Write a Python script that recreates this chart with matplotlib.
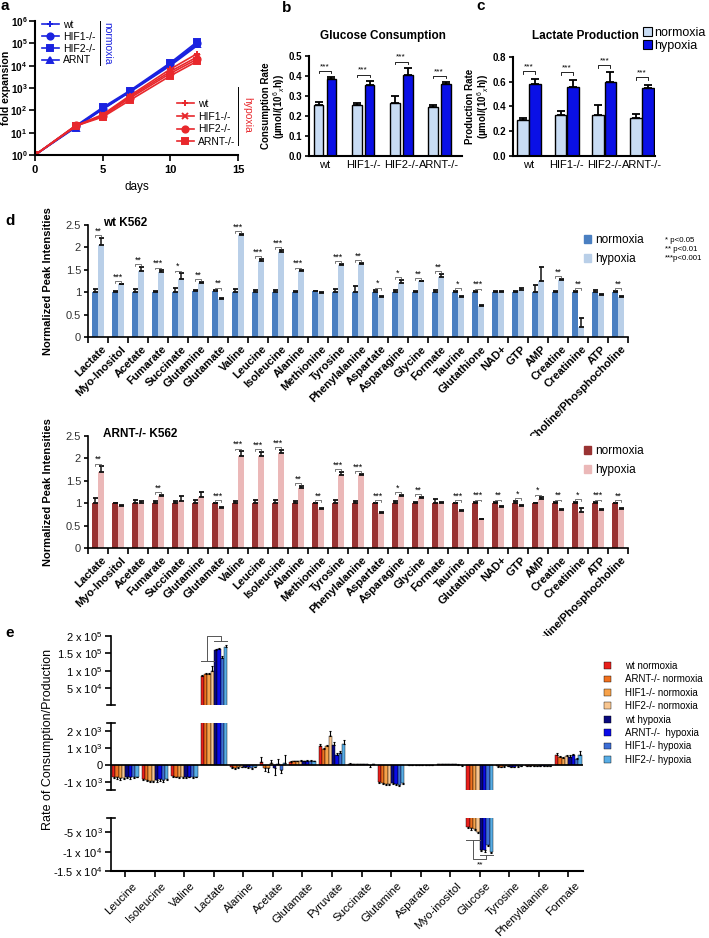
import numpy as np
import matplotlib
matplotlib.use("Agg")
import matplotlib.pyplot as plt
import matplotlib.transforms as mtransforms
from matplotlib.lines import Line2D
from matplotlib.patches import Patch

plt.rcParams['font.family'] = ['Liberation Sans', 'DejaVu Sans']
plt.rcParams['mathtext.fontset'] = 'custom'
plt.rcParams['mathtext.rm'] = 'Liberation Sans'
plt.rcParams['mathtext.it'] = 'Liberation Sans:italic'
plt.rcParams['mathtext.bf'] = 'Liberation Sans:bold'
plt.rcParams['axes.linewidth'] = 1.2

# ─────────────────────────────────────────────
# Data
# ─────────────────────────────────────────────

# a: growth curves
days = [0, 3, 5, 7, 10, 12]
norm_labels = ['wt', 'HIF1-/-', 'HIF2-/-', 'ARNT']
hyp_labels = ['wt', 'HIF1-/-', 'HIF2-/-', 'ARNT-/-']
growth_norm = [[1, 18, 110, 650, 10000, 80000],
               [1, 19, 120, 700, 12000, 100000],
               [1, 20, 135, 760, 13500, 120000],
               [1, 17, 115, 680, 11000, 90000]]
growth_hyp = [[1, 20, 65, 450, 7000, 35000],
              [1, 19, 60, 400, 5500, 25000],
              [1, 21, 55, 350, 4500, 20000],
              [1, 20, 50, 280, 3500, 16000]]
norm_markers = ['+', 'o', 's', '^']
hyp_markers = ['+', 'x', 'o', 's']

# b / c: glucose consumption and lactate production
strains = ['wt', 'HIF1-/-', 'HIF2-/-', 'ARNT-/-']
glc_norm = [0.255, 0.255, 0.265, 0.245]
glc_norm_err = [0.015, 0.012, 0.035, 0.010]
glc_hyp = [0.385, 0.357, 0.407, 0.360]
glc_hyp_err = [0.010, 0.020, 0.035, 0.010]
lac_norm = [0.290, 0.335, 0.335, 0.310]
lac_norm_err = [0.015, 0.025, 0.080, 0.030]
lac_hyp = [0.580, 0.560, 0.600, 0.550]
lac_hyp_err = [0.045, 0.055, 0.075, 0.025]

# d: normalized NMR peak intensities
metabolites = ['Lactate', 'Myo-Inositol', 'Acetate', 'Fumarate', 'Succinate',
               'Glutamine', 'Glutamate', 'Valine', 'Leucine', 'Isoleucine',
               'Alanine', 'Methionine', 'Tyrosine', 'Phenylalanine', 'Aspartate',
               'Asparagine', 'Glycine', 'Formate', 'Taurine', 'Glutathione',
               'NAD+', 'GTP', 'AMP', 'Creatine', 'Creatinine', 'ATP',
               'Choline/Phosphocholine']
wt_norm = [1.0, 1.0, 1.0, 1.0, 1.0, 1.02, 1.02, 1.0, 1.0, 1.0, 1.01, 1.02, 1.0,
           1.0, 1.0, 1.0, 1.0, 1.0, 1.0, 1.0, 1.0, 1.0, 1.0, 1.0, 1.0, 1.0, 1.0]
wt_norm_err = [0.08, 0.03, 0.07, 0.03, 0.10, 0.02, 0.02, 0.08, 0.05, 0.05, 0.01,
               0.01, 0.08, 0.14, 0.04, 0.04, 0.03, 0.04, 0.03, 0.02, 0.03, 0.03,
               0.17, 0.03, 0.03, 0.04, 0.03]
wt_hyp = [2.05, 1.18, 1.47, 1.45, 1.30, 1.20, 0.85, 2.27, 1.70, 1.90, 1.48, 0.98,
          1.60, 1.64, 0.89, 1.20, 1.24, 1.33, 0.90, 0.70, 1.00, 1.05, 1.24, 1.27,
          0.23, 0.94, 0.90]
wt_hyp_err = [0.17, 0.01, 0.10, 0.04, 0.12, 0.03, 0.02, 0.03, 0.05, 0.05, 0.01,
              0.02, 0.04, 0.02, 0.02, 0.08, 0.02, 0.08, 0.01, 0.01, 0.03, 0.05,
              0.32, 0.03, 0.19, 0.03, 0.01]
wt_sig = ['**', '***', '**', '***', '*', '**', '**', '***', '***', '***', '***', '',
          '***', '**', '*', '*', '**', '**', '*', '***', '', '', '', '**', '**',
          '', '**']
arnt_norm = [1.0] * 27
arnt_norm_err = [0.11, 0.01, 0.08, 0.04, 0.06, 0.07, 0.01, 0.06, 0.07, 0.07, 0.06,
                 0.01, 0.08, 0.05, 0.01, 0.04, 0.02, 0.10, 0.01, 0.02, 0.02, 0.05,
                 0.01, 0.02, 0.03, 0.02, 0.01]
arnt_hyp = [1.70, 0.93, 1.00, 1.15, 1.05, 1.13, 0.90, 2.05, 2.05, 2.12, 1.35, 0.88,
            1.63, 1.64, 0.78, 1.16, 1.12, 1.00, 0.83, 0.64, 0.92, 0.94, 1.10, 0.85,
            0.80, 0.85, 0.88]
arnt_hyp_err = [0.12, 0.03, 0.04, 0.03, 0.12, 0.12, 0.01, 0.11, 0.09, 0.07, 0.03,
                0.02, 0.07, 0.02, 0.02, 0.03, 0.02, 0.03, 0.01, 0.01, 0.02, 0.02,
                0.03, 0.02, 0.09, 0.01, 0.02]
arnt_sig = ['**', '', '', '**', '', '', '***', '***', '***', '***', '**', '**',
            '***', '***', '***', '*', '**', '', '***', '***', '**', '*', '*', '**',
            '*', '***', '**']
p_labels = ['* p<0.05', '** p<0.01', '***p<0.001']

# e: consumption / production rates
e_metabolites = ['Leucine', 'Isoleucine', 'Valine', 'Lactate', 'Alanine', 'Acetate',
                 'Glutamate', 'Pyruvate', 'Succinate', 'Glutamine', 'Asparate',
                 'Myo-inositol', 'Glucose', 'Tyrosine', 'Phenylalanine', 'Formate']
e_series = ['wt normoxia', 'ARNT-/- normoxia', 'HIF1-/- normoxia', 'HIF2-/- normoxia',
            'wt hypoxia', 'ARNT-/-  hypoxia', 'HIF1-/- hypoxia', 'HIF2-/- hypoxia']
e_wt_n = [-700, -850, -650, 86000, -150, 200, 200, 1150, 80, -1050, 10, 40, -3700, -80, -50, 570]
e_arnt_n = [-750, -900, -700, 92000, -200, -200, 220, 950, 60, -1100, 10, 40, -4000, -100, -50, 450]
e_hif1_n = [-800, -950, -700, 90000, -150, -200, 220, 1100, 50, -1120, 5, 50, -4200, -80, -40, 400]
e_hif2_n = [-800, -950, -720, 100000, -100, 100, 250, 1750, 60, -1150, 10, 40, -4800, -60, -40, 530]
e_wt_h = [-750, -900, -750, 159000, -100, -200, 220, 1200, 50, -1100, 5, 30, -9500, -100, -50, 490]
e_arnt_h = [-750, -850, -700, 163000, -150, 50, 250, 600, 30, -1150, 10, 40, -9700, -100, -40, 570]
e_hif1_h = [-750, -900, -750, 137000, -200, -300, 250, 700, -20, -1200, 10, 20, -8200, -80, -40, 330]
e_hif2_h = [-700, -850, -700, 169000, -100, 100, 220, 1250, 40, -1100, 5, -30, -10000, -60, -50, 590]
e_wt_n_err = [80, 80, 60, 3000, 40, 300, 20, 100, 20, 60, 5, 10, 300, 20, 10, 150]
e_arnt_n_err = [70, 90, 50, 3000, 60, 150, 20, 80, 20, 60, 5, 10, 300, 20, 10, 60]
e_hif1_n_err = [80, 100, 60, 3000, 40, 250, 20, 80, 15, 60, 5, 10, 300, 20, 10, 60]
e_hif2_n_err = [60, 80, 50, 14000, 30, 200, 20, 250, 15, 60, 5, 10, 300, 20, 10, 80]
e_wt_h_err = [60, 100, 60, 5000, 30, 400, 20, 150, 15, 60, 5, 10, 300, 20, 10, 80]
e_arnt_h_err = [70, 120, 50, 4000, 40, 300, 20, 80, 10, 60, 5, 10, 300, 20, 10, 80]
e_hif1_h_err = [60, 150, 60, 5000, 50, 200, 20, 150, 100, 60, 5, 10, 300, 20, 10, 60]
e_hif2_h_err = [50, 80, 50, 4000, 30, 500, 20, 250, 15, 60, 5, 50, 300, 20, 10, 250]
e_values = [e_wt_n, e_arnt_n, e_hif1_n, e_hif2_n, e_wt_h, e_arnt_h, e_hif1_h, e_hif2_h]
e_errors = [e_wt_n_err, e_arnt_n_err, e_hif1_n_err, e_hif2_n_err,
            e_wt_h_err, e_arnt_h_err, e_hif1_h_err, e_hif2_h_err]

# ─────────────────────────────────────────────
# Colours
# ─────────────────────────────────────────────

BLUE_A = '#1a22e0'
RED_A = '#e8282c'
C_LIGHT = '#c8dcf4'
C_DARK = '#0a10e6'
D_WT = ('#4a7fc1', '#b9cfe8')
D_ARNT = ('#993333', '#ebb8b8')
E_COLORS = ['#e8201c', '#f0701e', '#f7a24a', '#f8c690',
            '#08087e', '#0a0ae8', '#3d6ed6', '#58ade6']

# ─────────────────────────────────────────────
# Layout helpers (pixel coordinates of the 709x938 figure)
# ─────────────────────────────────────────────

W, H = 709, 938
fig = plt.figure(figsize=(W / 100, H / 100), dpi=100)


def box(left, top, right, bottom):
    return [left / W, 1 - bottom / H, (right - left) / W, (bottom - top) / H]


def ftext(x, y, s, **kw):
    return fig.text(x / W, 1 - y / H, s, **kw)


def fline(xs, ys, **kw):
    fig.add_artist(Line2D([v / W for v in xs], [1 - v / H for v in ys], **kw))


def fig_anchor(x, y):
    return (x / W, 1 - y / H)


def shift_labels(ax, dx_px):
    off = mtransforms.ScaledTranslation(dx_px / 100, 0, fig.dpi_scale_trans)
    for lab in ax.get_xticklabels():
        lab.set_transform(lab.get_transform() + off)


for lab, x, y in [('a', 5, 6), ('b', 287, 8), ('c', 481, 6), ('d', 10, 221), ('e', 10, 633)]:
    ftext(x, y, lab, fontsize=11, fontweight='bold', ha='center', va='center')

# ─────────────────────────────────────────────
# a: fold expansion
# ─────────────────────────────────────────────

ax_a = fig.add_axes(box(35, 21, 238, 155))
h_norm, h_hyp = [], []
for vals, m in zip(growth_norm, norm_markers):
    ln, = ax_a.plot(days, vals, color=BLUE_A, marker=m, ms=4.5, mew=1.4, lw=1.2)
    h_norm.append(ln)
for vals, m in zip(growth_hyp, hyp_markers):
    ln, = ax_a.plot(days, vals, color=RED_A, marker=m, ms=4.5, mew=1.4, lw=1.2)
    h_hyp.append(ln)
ax_a.set_yscale('log')
ax_a.set_ylim(1, 1e6)
ax_a.set_xlim(0, 15)
ax_a.yaxis.set_minor_locator(matplotlib.ticker.NullLocator())
ax_a.set_yticks([10 ** k for k in range(7)],
                labels=[r'$\mathbf{10^{%d}}$' % k for k in range(7)], fontsize=7.2)
ax_a.set_xticks([0, 5, 10, 15], labels=['0', '5', '10', '15'], fontsize=8, fontweight='bold')
ax_a.tick_params(length=4, width=1.2)
ax_a.tick_params(axis='y', pad=1.5)
for s in ['top', 'right']:
    ax_a.spines[s].set_visible(False)
ax_a.spines[['left', 'bottom']].set_linewidth(1.5)
ax_a.set_xlabel('days', fontsize=8.5, labelpad=4)
ftext(6, 88, 'fold expansion', fontsize=7.6, fontweight='bold', rotation=90, ha='center', va='center')

leg_n = ax_a.legend(h_norm, norm_labels, loc='upper left', bbox_to_anchor=fig_anchor(42, 20),
                    bbox_transform=fig.transFigure, frameon=False, fontsize=7.5,
                    handlelength=1.6, handletextpad=0.4, labelspacing=0.17,
                    borderpad=0, borderaxespad=0)
ax_a.add_artist(leg_n)
ax_a.legend(h_hyp, hyp_labels, loc='upper left', bbox_to_anchor=fig_anchor(177, 99),
            bbox_transform=fig.transFigure, frameon=False, fontsize=7.5,
            handlelength=1.6, handletextpad=0.4, labelspacing=0.26,
            borderpad=0, borderaxespad=0)
fline([100, 100], [21, 65], color='black', lw=0.7)
ftext(107, 43, 'normoxia', color=BLUE_A, fontsize=7.5, rotation=-90, ha='center', va='center')
fline([238, 238], [87, 145], color='black', lw=0.7)
ftext(247, 115, 'hypoxia', color=RED_A, fontsize=7.5, rotation=-90, ha='center', va='center')

# ─────────────────────────────────────────────
# b / c: rates
# ─────────────────────────────────────────────


def draw_rate_panel(ax, norm, norm_err, hyp, hyp_err, width, shift, ymax, ystep, pad, leg):
    x = np.arange(len(strains))
    z = np.zeros(len(x))
    ekw = dict(ecolor='black', elinewidth=1.3, capsize=3, capthick=1.3)
    ax.bar(x - shift, norm, width, color=C_LIGHT, edgecolor='black', linewidth=1,
           yerr=[z, norm_err], error_kw=ekw)
    ax.bar(x + shift, hyp, width, color=C_DARK, edgecolor='black', linewidth=1,
           yerr=[z, hyp_err], error_kw=ekw)
    tops = np.maximum(np.add(norm, norm_err), np.add(hyp, hyp_err)) + pad
    for xi, t in zip(x, tops):
        ax.plot([xi - shift, xi - shift, xi + shift, xi + shift], [t - leg, t, t, t - leg],
                color='black', lw=0.6)
        ax.text(xi, t + leg * 0.3, '***', ha='center', va='bottom', fontsize=6)
    ax.set_ylim(0, ymax)
    ticks = np.arange(0, ymax + 1e-9, ystep)
    ax.set_yticks(ticks, labels=['%.1f' % t for t in ticks], fontsize=7, fontweight='bold')
    ax.set_xticks(x, labels=strains, fontsize=8)
    ax.tick_params(axis='x', length=0, pad=3)
    ax.tick_params(axis='y', length=3, width=1.2, pad=2)
    for s in ['top', 'right']:
        ax.spines[s].set_visible(False)
    ax.spines[['left', 'bottom']].set_linewidth(1.5)


ax_b = fig.add_axes(box(309, 56, 462, 156))
draw_rate_panel(ax_b, glc_norm, glc_norm_err, glc_hyp, glc_hyp_err, 0.26, 0.17,
                0.5, 0.1, 0.03, 0.012)
ax_b.set_xlim(-0.42, 3.6)
ftext(383, 36, 'Glucose Consumption', fontsize=8.5, fontweight='bold', ha='center', va='center')
ftext(274, 106, 'Consumption Rate\n(µmol/(10$^6$$_x$h))', fontsize=7, fontweight='bold',
      rotation=90, ha='center', va='center', linespacing=1.1)

ax_c = fig.add_axes(box(513, 57, 655, 156))
draw_rate_panel(ax_c, lac_norm, lac_norm_err, lac_hyp, lac_hyp_err, 0.31, 0.16,
                0.8, 0.2, 0.06, 0.02)
ax_c.set_xlim(-0.42, 3.34)
ftext(585, 36, 'Lactate Production', fontsize=8.5, fontweight='bold', ha='center', va='center')
ftext(478, 106, 'Production Rate\n(µmol/(10$^6$$_x$h))', fontsize=7, fontweight='bold',
      rotation=90, ha='center', va='center', linespacing=1.1)
fig.legend([Patch(facecolor=C_LIGHT, edgecolor='black', lw=0.8),
            Patch(facecolor=C_DARK, edgecolor='black', lw=0.8)],
           ['normoxia', 'hypoxia'], loc='upper left', bbox_to_anchor=fig_anchor(643, 27),
           frameon=False, fontsize=9, handlelength=0.7, handleheight=0.7,
           handletextpad=0.2, labelspacing=0.05, borderpad=0, borderaxespad=0)

# ─────────────────────────────────────────────
# d: normalized peak intensities
# ─────────────────────────────────────────────


def draw_peak_panel(ax, norm, norm_err, hyp, hyp_err, sig, colors, title):
    x = np.arange(len(metabolites))
    z = np.zeros(len(x))
    ekw = dict(ecolor='#111111', elinewidth=1.1, capsize=1.8, capthick=1.3)
    ax.bar(x - 0.16, norm, 0.3, color=colors[0], yerr=[z, norm_err], error_kw=ekw)
    ax.bar(x + 0.16, hyp, 0.3, color=colors[1], yerr=[z, hyp_err], error_kw=ekw)
    tops = np.maximum(np.add(norm, norm_err), np.add(hyp, hyp_err))
    for xi, s, t in zip(x, sig, tops):
        if not s:
            continue
        y = t + 0.06
        ax.plot([xi - 0.16, xi - 0.16, xi + 0.16, xi + 0.16], [y - 0.04, y, y, y - 0.04],
                color='#444444', lw=0.5, clip_on=False)
        ax.text(xi, y - 0.01, s, ha='center', va='bottom', fontsize=6.3, clip_on=False)
    ax.set_xlim(-0.5, len(x) - 0.5)
    ax.set_ylim(0, 2.5)
    ax.set_yticks([0, 0.5, 1, 1.5, 2, 2.5], labels=['0', '0.5', '1', '1.5', '2', '2.5'],
                  fontsize=8, color='#333333')
    ax.set_xticks(x, labels=metabolites, rotation=45, ha='right', va='top',
                  rotation_mode='anchor', fontweight='bold', fontsize=8)
    ax.set_xticks(np.arange(len(x) + 1) - 0.5, minor=True)
    ax.tick_params(axis='x', which='major', length=0, pad=5)
    ax.tick_params(axis='x', which='minor', length=4, width=1.2)
    ax.tick_params(axis='y', length=3, width=1.2, pad=2)
    shift_labels(ax, 3)
    for s in ['top', 'right']:
        ax.spines[s].set_visible(False)
    ax.text(0.028, 1.02, title, transform=ax.transAxes, fontsize=8.5, fontweight='bold',
            ha='left', va='center')


ax_d1 = fig.add_axes(box(88, 225, 628, 337))
draw_peak_panel(ax_d1, wt_norm, wt_norm_err, wt_hyp, wt_hyp_err, wt_sig, D_WT, 'wt K562')
ax_d2 = fig.add_axes(box(88, 436, 628, 548))
draw_peak_panel(ax_d2, arnt_norm, arnt_norm_err, arnt_hyp, arnt_hyp_err, arnt_sig, D_ARNT,
                'ARNT-/- K562')
for ycen in [281, 492]:
    ftext(48, ycen, 'Normalized Peak Intensities', fontsize=8, fontweight='bold',
          rotation=90, ha='center', va='center')
for colors, ytop in [(D_WT, 234), (D_ARNT, 445)]:
    fig.legend([Patch(color=colors[0]), Patch(color=colors[1])], ['normoxia', 'hypoxia'],
               loc='upper left', bbox_to_anchor=fig_anchor(584, ytop), frameon=False,
               fontsize=8.5, handlelength=0.6, handleheight=0.6, handletextpad=0.35,
               labelspacing=0.6, borderpad=0, borderaxespad=0)
for i, s in enumerate(p_labels):
    ftext(665, 240 + 9.5 * i, s, fontsize=5.7, ha='left', va='center')

# ─────────────────────────────────────────────
# e: broken-axis bar chart
# ─────────────────────────────────────────────

ex = np.arange(len(e_metabolites))
bw = 0.113
offsets = (np.arange(8) - 3.5) * bw


def draw_e_bars(ax, lo, hi):
    bars = []
    for k in range(8):
        vals = np.array(e_values[k], dtype=float)
        errs = np.array(e_errors[k], dtype=float)
        # only the bars that reach into this segment of the broken axis
        shown = (np.maximum(vals, 0) > lo) & (np.minimum(vals, 0) < hi)
        b = ax.bar(ex[shown] + offsets[k], vals[shown], bw, color=E_COLORS[k],
                   edgecolor='black', linewidth=0.3)
        bars.append(b)
        ends = np.where(vals < 0, vals - errs, vals + errs)
        keep = (vals > lo) & (vals < hi) & (ends > lo) & (ends < hi)
        lower = np.where(vals < 0, errs, 0)[keep]
        upper = np.where(vals >= 0, errs, 0)[keep]
        if keep.any():
            ax.errorbar(ex[keep] + offsets[k], vals[keep], yerr=[lower, upper], fmt='none',
                        ecolor='black', elinewidth=0.8, capsize=0.9, capthick=0.8)
    ax.set_xlim(-0.485, 15.5)
    ax.set_ylim(lo, hi)
    for s in ['top', 'right', 'bottom']:
        ax.spines[s].set_visible(False)
    ax.tick_params(axis='y', length=4, width=1.2, pad=2, labelsize=8)
    return bars


def end_cap(ax, y):
    ax.plot([-0.009, 0.009], [y, y], transform=ax.get_yaxis_transform(), color='black',
            lw=1.2, clip_on=False)


ax_e1 = fig.add_axes(box(111, 636, 583, 705))
draw_e_bars(ax_e1, 2500, 2e5)
ax_e1.set_xticks([])
ax_e1.set_yticks([5e4, 1e5, 1.5e5, 2e5],
                 labels=['5 x 10$^4$', '1 x 10$^5$', '1.5 x 10$^5$', '2 x 10$^5$'])
end_cap(ax_e1, 2500)

ax_e2 = fig.add_axes(box(111, 723, 583, 790))
e_handles = draw_e_bars(ax_e2, -1500, 2500)
ax_e2.set_xticks([])
ax_e2.axhline(0, color='black', lw=1.2)
ax_e2.set_yticks([-1e3, 0, 1e3, 2e3],
                 labels=['-1 x 10$^3$', '0', '1 x 10$^3$', '2 x 10$^3$'])
end_cap(ax_e2, 2500)
end_cap(ax_e2, -1500)

ax_e3 = fig.add_axes(box(111, 818, 583, 871))
draw_e_bars(ax_e3, -1.5e4, -1.3e3)
ax_e3.spines['bottom'].set_visible(True)
ax_e3.spines['bottom'].set_linewidth(1.5)
ax_e3.set_yticks([-1.5e4, -1e4, -5e3],
                 labels=['-1.5 x 10$^4$', '-1 x 10$^4$', '-5 x 10$^3$'])
ax_e3.set_xticks(ex, labels=e_metabolites, rotation=45, ha='right', va='top',
                 rotation_mode='anchor', fontsize=8.2)
ax_e3.tick_params(axis='x', length=4, width=1.2, pad=3)
shift_labels(ax_e3, 6)
end_cap(ax_e3, -1.3e3)

# significance brackets: lactate (top) and glucose (bottom)
li = e_metabolites.index('Lactate')
n_x = ex[li] + offsets[:4]
h_x = ex[li] + offsets[4:]
n_top = max(np.array([v[li] for v in e_values[:4]]) + np.array([e[li] for e in e_errors[:4]]))
h_top = max(np.array([v[li] for v in e_values[4:]]) + np.array([e[li] for e in e_errors[4:]]))
yn, yh, yc = n_top + 1.5e4, h_top + 1.2e4, 2.0e5
ax_e1.plot([n_x[0] - bw / 2, n_x[-1] + bw / 2], [yn, yn], color='#555555', lw=0.7, clip_on=False)
ax_e1.plot([h_x[0] - bw / 2, h_x[-1] + bw / 2], [yh, yh], color='#555555', lw=0.7, clip_on=False)
ax_e1.plot([n_x.mean(), n_x.mean(), h_x.mean(), h_x.mean()], [yn, yc, yc, yh],
           color='#555555', lw=0.7, clip_on=False)

gi = e_metabolites.index('Glucose')
n_x = ex[gi] + offsets[:4]
h_x = ex[gi] + offsets[4:]
n_bot = min(np.array([v[gi] for v in e_values[:4]]) - np.array([e[gi] for e in e_errors[:4]]))
h_bot = min(np.array([v[gi] for v in e_values[4:]]) - np.array([e[gi] for e in e_errors[4:]]))
yn, yh, yc = n_bot - 2.0e3, h_bot - 0.6e3, -1.2e4
ax_e3.plot([n_x[0] - bw / 2, n_x[-1] + bw / 2], [yn, yn], color='#555555', lw=0.7)
ax_e3.plot([h_x[0] - bw / 2, h_x[-1] + bw / 2], [yh, yh], color='#555555', lw=0.7)
ax_e3.plot([n_x.mean(), n_x.mean(), h_x.mean(), h_x.mean()], [yn, yc, yc, yh],
           color='#555555', lw=0.7)
ax_e3.text(ex[gi], yc - 400, '**', ha='center', va='top', fontsize=6)

ftext(48, 739, 'Rate of Consumption/Production', fontsize=9, rotation=90,
      ha='center', va='center')
fig.legend([h[0] for h in e_handles], e_series, loc='upper left',
           bbox_to_anchor=fig_anchor(604, 661), frameon=False, fontsize=7,
           handlelength=0.7, handleheight=0.7, handletextpad=1.5, labelspacing=0.35,
           borderpad=0, borderaxespad=0)

fig.savefig('out.png', dpi=100)
